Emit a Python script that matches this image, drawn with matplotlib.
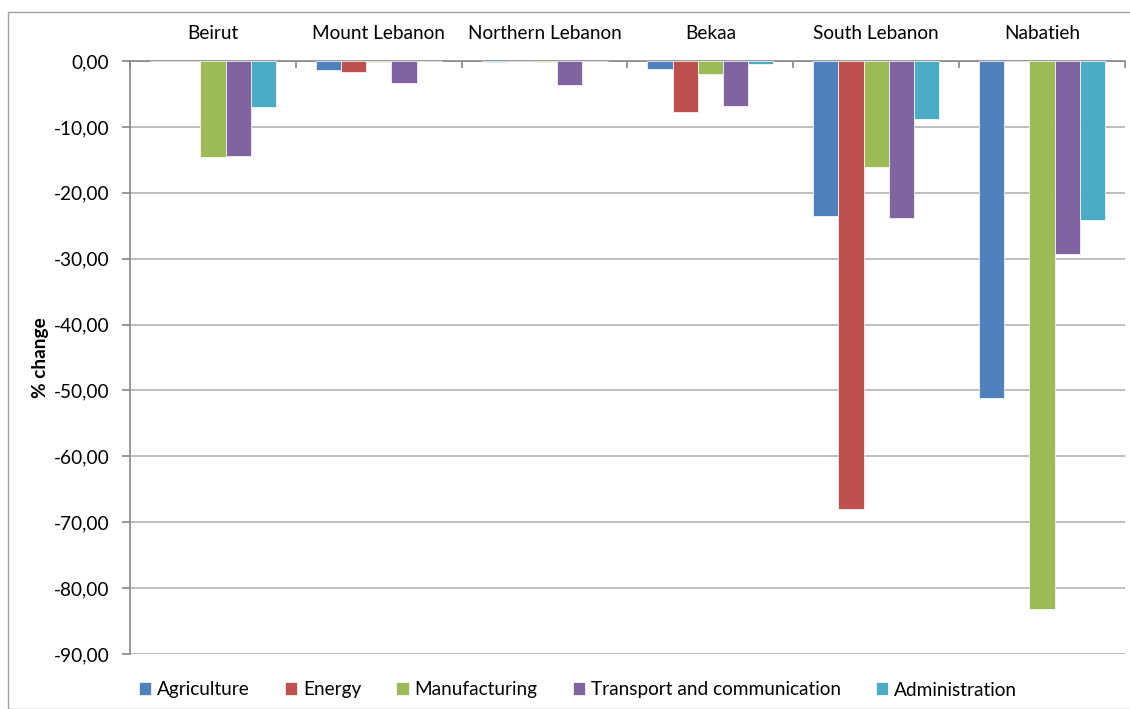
import matplotlib
matplotlib.use("Agg")
import matplotlib.pyplot as plt
import numpy as np
from matplotlib.patches import Rectangle

regions = ["Beirut", "Mount Lebanon", "Northern Lebanon", "Bekaa", "South Lebanon", "Nabatieh"]
series_names = ["Agriculture", "Energy", "Manufacturing", "Transport and communication", "Administration"]
agriculture = [0.0, -1.3, -0.2, -1.2, -23.5, -51.2]
energy = [0.0, -1.6, 0.0, -7.8, -68.0, 0.0]
manufacturing = [-14.5, -0.1, -0.1, -1.9, -16.1, -83.2]
transport = [-14.4, -3.3, -3.6, -6.8, -23.8, -29.3]
administration = [-7.0, 0.0, 0.0, -0.5, -8.8, -24.2]
yticks = [0, -10, -20, -30, -40, -50, -60, -70, -80, -90]
colors = ["#4F81BD", "#C0504D", "#9BBB59", "#8064A2", "#4BACC6"]

plt.rcParams['font.family'] = ['Lato', 'DejaVu Sans']
FS = 13.7

fig = plt.figure(figsize=(11.30, 7.09), dpi=100)
ax = fig.add_axes([130/1130, 1-654/709, (1125-130)/1130, (654-61)/709])

data = [agriculture, energy, manufacturing, transport, administration]
x = np.arange(len(regions))
w = 0.152
for i, (vals, name, c) in enumerate(zip(data, series_names, colors)):
    ax.bar(x + (i-2)*w, vals, w, color=c, label=name, edgecolor='white', linewidth=0.5, zorder=3)

ax.set_xlim(-0.5, len(regions)-0.5)
ax.set_ylim(-90, 0)
ax.set_yticks(yticks)
ax.set_yticklabels([f"{v:.2f}".replace(".", ",") for v in yticks], fontsize=FS)
ax.yaxis.grid(True, color="#b3b3b3", linewidth=1.2, zorder=0)
ax.set_axisbelow(True)

ax.xaxis.tick_top()
ax.set_xticks(np.arange(len(regions)+1) - 0.5, minor=False)
ax.set_xticklabels([])
ax.set_xticks(x, minor=True)
ax.set_xticklabels(regions, minor=True, fontsize=FS)
ax.tick_params(axis='x', which='major', direction='in', length=5, color='#888888', width=1.2)
ax.tick_params(axis='x', which='minor', length=0, pad=14)
ax.tick_params(axis='y', length=6, color='#888888', width=1.2, pad=9)

for s in ['right', 'bottom']:
    ax.spines[s].set_visible(False)
ax.spines['top'].set_color('#888888')
ax.spines['top'].set_linewidth(1.2)
ax.spines['left'].set_color('#888888')
ax.spines['left'].set_linewidth(1.2)

ax.set_ylabel("% change", fontsize=FS, fontweight='bold', labelpad=3)

handles, labels = ax.get_legend_handles_labels()
fig.legend(handles, labels, loc='center', bbox_to_anchor=(578/1130, 1-690/709), ncol=5,
           frameon=False, fontsize=FS, handlelength=0.65, handleheight=0.65,
           handletextpad=0.3, columnspacing=1.85)

fig.patches.append(Rectangle((8/1130, 0), 1.0, 1-12/709, transform=fig.transFigure,
                             fill=False, edgecolor='#a0a0a0', linewidth=1.0))

fig.savefig("out.png", dpi=100)
